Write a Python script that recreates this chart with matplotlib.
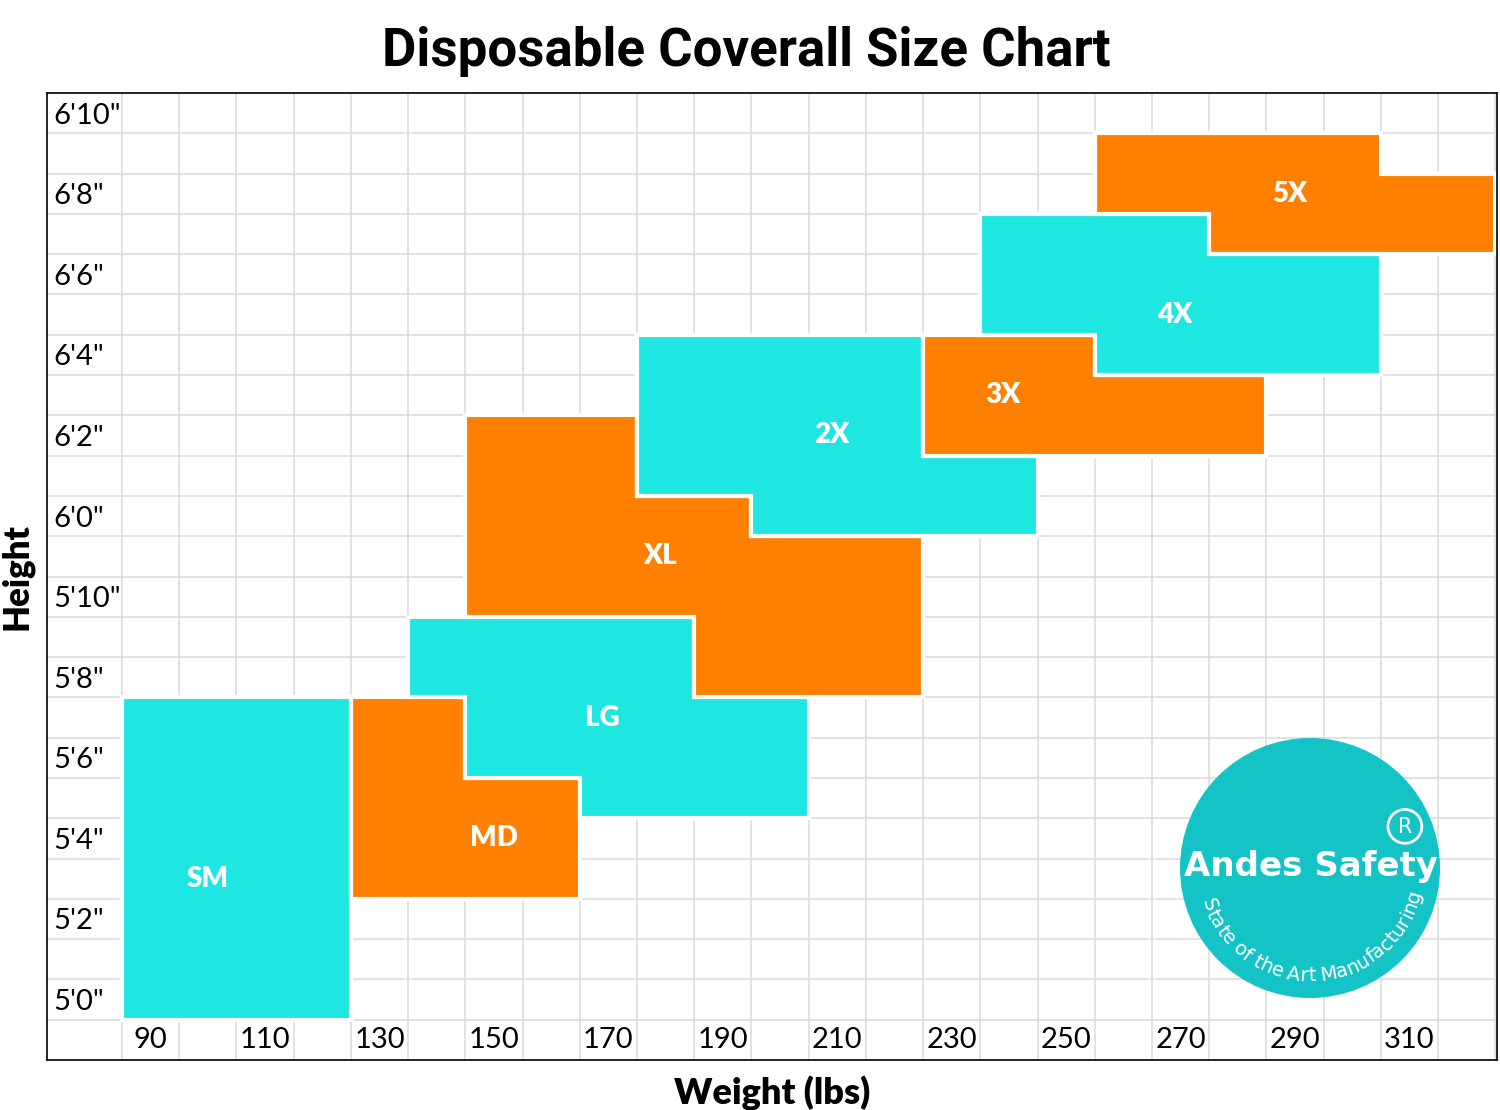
import numpy as np
import matplotlib
matplotlib.use("Agg")
import matplotlib.pyplot as plt
from matplotlib.patches import Polygon, Circle
from matplotlib.textpath import TextToPath
from matplotlib.font_manager import FontProperties

# size name, colour and label spot (weight, height)
sizes = ["SM", "MD", "LG", "XL", "2X", "3X", "4X", "5X"]
size_colors = ["#1EE6E0", "#FF7F00", "#1EE6E0", "#FF7F00",
               "#1EE6E0", "#FF7F00", "#1EE6E0", "#FF7F00"]
label_weight = [100, 150, 169, 179, 209, 239, 269, 289]
label_height = [63, 64, 67, 71, 74, 75, 77, 80]

# bands per size: (height from, height to, weight from, weight to)
# heights in inches, weights in lbs (grid cells, inclusive)
bands = {
    "SM": [(60, 67, 90, 120)],
    "MD": [(63, 65, 130, 160), (66, 67, 130, 140)],
    "LG": [(65, 65, 170, 200), (66, 67, 150, 200), (68, 69, 140, 180)],
    "XL": [(68, 69, 190, 220), (70, 71, 150, 220), (72, 72, 150, 190), (73, 74, 150, 170)],
    "2X": [(72, 72, 200, 240), (73, 73, 180, 240), (74, 76, 180, 220)],
    "3X": [(74, 75, 230, 280), (76, 76, 230, 250)],
    "4X": [(76, 76, 260, 300), (77, 78, 240, 300), (79, 79, 240, 270)],
    "5X": [(79, 79, 280, 320), (80, 80, 260, 320), (81, 81, 260, 300)],
}

weight_ticks = [90, 110, 130, 150, 170, 190, 210, 230, 250, 270, 290, 310]
height_ticks = [60, 62, 64, 66, 68, 70, 72, 74, 76, 78, 80, 82]
height_labels = ["5'0\"", "5'2\"", "5'4\"", "5'6\"", "5'8\"", "5'10\"",
                 "6'0\"", "6'2\"", "6'4\"", "6'6\"", "6'8\"", "6'10\""]

fig = plt.figure(figsize=(15, 11.1), dpi=100)
ax = fig.add_axes([47/1500, 1 - 1060/1110, 1450/1500, 967/1110])
ax.set_xlim(71.9, 325.3)
ax.set_ylim(58.5, 82.5)

# grid cells
ax.set_xticks(np.arange(85, 326, 10), minor=True)
ax.set_yticks(np.arange(59.5, 82.6, 1), minor=True)
ax.grid(which='minor', color='#DADADA', lw=1.1)
ax.grid(which='major', visible=False)
ax.set_axisbelow(True)

for name, col in zip(sizes, size_colors):
    left, right = [], []
    for h0, h1, w0, w1 in sorted(bands[name]):
        left += [(w0 - 5, h0 - 0.5), (w0 - 5, h1 + 0.5)]
        right += [(w1 + 5, h0 - 0.5), (w1 + 5, h1 + 0.5)]
    pts = left + right[::-1]
    ax.add_patch(Polygon(pts, closed=True, facecolor=col, edgecolor='white',
                         lw=3, joinstyle='miter', zorder=2))

for name, x, y in zip(sizes, label_weight, label_height):
    ax.text(x, y, name, color='white', fontsize=20, fontweight='heavy',
            family='Lato', ha='center', va='center', zorder=3)

ax.set_xticks(weight_ticks, labels=[str(w) for w in weight_ticks])
ax.set_yticks(height_ticks, labels=height_labels)
ax.tick_params(which='both', length=0)
ax.tick_params(axis='x', pad=-14.4, labelsize=21)
ax.tick_params(axis='y', pad=-4.3, labelsize=21)
for lab in ax.get_xticklabels():
    lab.set_va('center')
    lab.set_family('Lato')
for lab in ax.get_yticklabels():
    lab.set_ha('left')
    lab.set_family('Lato')

for sp in ax.spines.values():
    sp.set_linewidth(1.2)
    sp.set_color('black')

ax.set_xlabel("Weight (lbs)", fontsize=26, fontweight='heavy', family='Lato', labelpad=8)
ax.set_ylabel("Height", fontsize=25, fontweight='heavy', family='Lato', labelpad=6)

fig.text(746/1500, 1 - 66/1110, "Disposable Coverall Size Chart", fontsize=38,
         fontweight='bold', family='Roboto', ha='center', va='baseline')

# logo
lax = fig.add_axes([1180/1500, 112/1110, 260/1500, 260/1110])
lax.set_xlim(-1, 1)
lax.set_ylim(-1, 1)
lax.axis('off')
lax.add_patch(Circle((0, 0), 1, facecolor='#14C3C6', lw=0))
lax.text(0.01, 0.015, "Andes Safety", color='white', fontsize=24.5, fontweight='bold',
         family='DejaVu Sans', ha='center', va='center')
lax.add_patch(Circle((0.73, 0.32), 0.13, facecolor='none', edgecolor='white', lw=2))
lax.text(0.73, 0.315, "R", color='white', fontsize=15, family='DejaVu Sans',
         ha='center', va='center')

arc_text = "State of the Art Manufacturing"
fs = 14
fp = FontProperties(family='DejaVu Sans', size=fs)
t2p = TextToPath()
widths = []
for ch in arc_text:
    if ch == ' ':
        widths.append(0.3 * fs)
    else:
        w, h, d = t2p.get_text_width_height_descent(ch, fp, ismath=False)
        widths.append(w + 0.05 * fs)
widths = np.array(widths)
s = (np.cumsum(widths) - widths / 2) / widths.sum()
R = 0.83
th_start, th_end = np.radians(197), np.radians(348)
for ch, si in zip(arc_text, s):
    th = th_start + si * (th_end - th_start)
    lax.text(R * np.cos(th), R * np.sin(th), ch, color='white', fontsize=fs,
             family='DejaVu Sans', rotation=np.degrees(th) + 90,
             rotation_mode='anchor', ha='center', va='center')

fig.savefig("out.png", dpi=100)
